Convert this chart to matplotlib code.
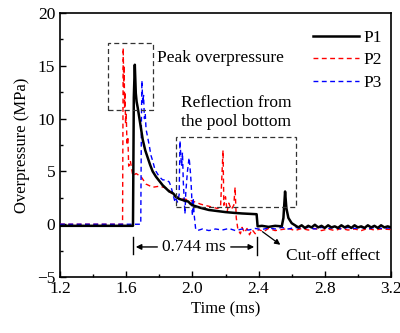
import matplotlib
matplotlib.use("Agg")
import matplotlib.pyplot as plt
from matplotlib.ticker import MultipleLocator
from matplotlib.patches import Rectangle

plt.rcParams['font.family'] = ['Liberation Serif', 'DejaVu Serif']
plt.rcParams['mathtext.fontset'] = 'stix'

# ---------------- data ----------------
t1 = [1.20, 1.641, 1.646, 1.652, 1.658, 1.663, 1.670, 1.680, 1.700, 1.715, 1.730,
      1.745, 1.760, 1.780, 1.800, 1.820, 1.840, 1.860, 1.875, 1.885, 1.900, 1.920,
      1.940, 1.960, 1.975, 1.990, 2.010, 2.050, 2.100, 2.150, 2.200, 2.250, 2.300,
      2.350, 2.388, 2.394, 2.42, 2.46, 2.50, 2.54, 2.550, 2.560, 2.568, 2.580, 2.600,
      2.62, 2.64, 2.66, 2.68, 2.70, 2.72, 2.74, 2.76, 2.78, 2.80, 2.82, 2.84, 2.86,
      2.88, 2.90, 2.92, 2.94, 2.96, 2.98, 3.00, 3.02, 3.04, 3.06, 3.08, 3.10, 3.12,
      3.14, 3.16, 3.18, 3.20]
p1 = [-0.15, -0.15, 12.0, 15.1, 12.4, 11.6, 11.0, 10.0, 8.0, 7.0, 6.3,
      5.6, 5.0, 4.5, 4.1, 3.7, 3.4, 3.1, 3.0, 2.9, 2.6, 2.4,
      2.3, 2.2, 2.15, 1.9, 1.75, 1.55, 1.35, 1.25, 1.15, 1.08, 1.02,
      0.98, 0.95, -0.2, -0.15, -0.25, -0.15, -0.2, 0.6, 3.1, 1.5, 0.6, 0.1,
      -0.1, -0.3, -0.1, -0.35, -0.15, -0.3, -0.05, -0.3, -0.15, -0.35, -0.1, -0.3,
      -0.2, -0.35, -0.1, -0.3, -0.15, -0.35, -0.1, -0.3, -0.2, -0.35, -0.1, -0.3,
      -0.15, -0.35, -0.1, -0.3, -0.2, -0.3]

t2 = [1.20, 1.578, 1.582, 1.585, 1.588, 1.590, 1.593, 1.596, 1.600, 1.605, 1.610,
      1.615, 1.625, 1.640, 1.660, 1.690, 1.720, 1.760, 1.800, 1.850, 1.880, 1.900,
      1.950, 2.000, 2.050, 2.100, 2.150, 2.170, 2.185, 2.190, 2.200, 2.210, 2.220,
      2.235, 2.250, 2.258, 2.265, 2.275, 2.290, 2.300, 2.315, 2.330, 2.345, 2.360,
      2.380, 2.400, 2.43, 2.46, 2.50, 2.54, 2.58, 2.62, 2.66, 2.70, 2.74, 2.78,
      2.82, 2.86, 2.90, 2.94, 2.98, 3.02, 3.06, 3.10, 3.14, 3.20]
p2 = [0.0, 0.0, 16.7, 13.0, 15.0, 11.0, 12.5, 9.5, 10.5, 7.5, 8.3,
      5.5, 6.0, 4.6, 4.8, 4.5, 3.8, 3.5, 3.6, 3.4, 2.8, 2.6,
      2.4, 2.2, 1.9, 1.7, 1.5, 1.6, 7.0, 1.8, 2.6, 1.2, 2.0,
      1.4, 1.8, 3.5, 0.6, -0.5, -0.9, -0.3, -0.8, -0.4, -1.0, -0.5,
      -0.9, -0.5, -0.7, -0.4, -0.6, -0.5, -0.4, -0.6, -0.4, -0.55, -0.4, -0.6,
      -0.45, -0.6, -0.4, -0.55, -0.45, -0.6, -0.4, -0.55, -0.45, -0.5]

t3 = [1.20, 1.688, 1.692, 1.695, 1.700, 1.705, 1.710, 1.715, 1.720, 1.730, 1.740,
      1.750, 1.760, 1.770, 1.780, 1.800, 1.820, 1.840, 1.860, 1.870, 1.880, 1.890,
      1.895, 1.900, 1.910, 1.920, 1.925, 1.930, 1.935, 1.940, 1.945, 1.950, 1.955,
      1.960, 1.970, 1.980, 1.985, 1.990, 1.995, 2.000, 2.005, 2.010, 2.020, 2.030,
      2.06, 2.10, 2.14, 2.18, 2.22, 2.26, 2.30, 2.34, 2.38, 2.42, 2.46, 2.50,
      2.54, 2.58, 2.62, 2.66, 2.70, 2.74, 2.78, 2.82, 2.86, 2.90, 2.94, 2.98,
      3.02, 3.06, 3.10, 3.14, 3.20]
p3 = [0.0, 0.0, 10.0, 13.6, 11.5, 12.2, 10.0, 10.5, 9.0, 8.2, 7.4,
      6.5, 6.0, 5.4, 5.0, 4.5, 4.2, 4.2, 4.0, 3.6, 3.0, 2.4,
      2.1, 2.4, 2.1, 2.8, 7.9, 6.5, 5.5, 6.8, 4.0, 2.5, 1.0,
      3.0, 5.0, 6.3, 5.5, 4.5, 3.0, 0.8, 2.5, 1.0, -0.5, -0.6,
      -0.45, -0.6, -0.45, -0.55, -0.4, -0.6, -0.45, -0.55, -0.4, -0.5, -0.35, -0.45,
      -0.3, -0.45, -0.3, -0.4, -0.3, -0.45, -0.3, -0.4, -0.3, -0.45, -0.3, -0.4,
      -0.3, -0.45, -0.3, -0.4, -0.35]

labels = ['P1', 'P2', 'P3']

x_ticks = [1.2, 1.6, 2.0, 2.4, 2.8, 3.2]
x_tick_labels = ['1.2', '1.6', '2.0', '2.4', '2.8', '3.2']
y_ticks = [-5, 0, 5, 10, 15, 20]

# ---------------- figure ----------------
fig = plt.figure(figsize=(4.0, 3.33), dpi=100)
ax = fig.add_axes([0.15, 0.168, 0.8275, 0.793])

ax.plot(t1, p1, color='black', lw=1.8, label=labels[0], zorder=4)
ax.plot(t2, p2, color='#ff0000', lw=1.0, ls=(0, (3.5, 2.5)), label=labels[1], zorder=3)
ax.plot(t3, p3, color='#0000ff', lw=1.0, ls=(0, (3.5, 2.5)), label=labels[2], zorder=3)

ax.set_xlim(1.2, 3.2)
ax.set_ylim(-5, 20)
ax.set_xticks(x_ticks)
ax.set_xticklabels(x_tick_labels)
ax.set_yticks(y_ticks)
ax.xaxis.set_minor_locator(MultipleLocator(0.2))
ax.yaxis.set_minor_locator(MultipleLocator(2.5))
ax.tick_params(which='both', direction='in', labelsize=12.5)
ax.tick_params(which='major', length=4, width=1)
ax.tick_params(which='minor', length=2.5, width=1)
ax.tick_params(axis='x', pad=3)
for s in ax.spines.values():
    s.set_linewidth(1.2)

ax.set_xlabel('Time (ms)', fontsize=12, labelpad=3)
ax.set_ylabel('Overpressure (MPa)', fontsize=12, labelpad=5)

leg = ax.legend(loc='upper right', frameon=False, fontsize=12.5, handlelength=2.6,
                handletextpad=0.3, labelspacing=0.38, borderaxespad=0.1,
                bbox_to_anchor=(1.0, 0.97))

# dashed boxes
ax.add_patch(Rectangle((1.49, 10.8), 0.272, 6.36, fill=False, ls=(0, (4, 2.5)),
                       lw=0.9, edgecolor='#333333', zorder=5))
ax.add_patch(Rectangle((1.901, 1.63), 0.725, 6.62, fill=False, ls=(0, (4, 2.5)),
                       lw=0.9, edgecolor='#333333', zorder=5))

ax.text(1.785, 15.7, 'Peak overpressure', fontsize=12.5, va='center', ha='left')
ax.text(2.265, 10.6, 'Reflection from\nthe pool bottom', fontsize=12.5,
        va='center', ha='center', linespacing=1.25)

# 0.744 ms annotation
ya = -2.15
ax.plot([1.641, 1.641], [-1.2, -2.8], color='black', lw=1)
ax.plot([2.390, 2.390], [-1.2, -2.9], color='black', lw=1)
ax.annotate('', xy=(1.641, ya), xytext=(1.805, ya),
            arrowprops=dict(arrowstyle='-|>', color='black', lw=1, mutation_scale=8))
ax.annotate('', xy=(2.390, ya), xytext=(2.215, ya),
            arrowprops=dict(arrowstyle='-|>', color='black', lw=1, mutation_scale=8))
ax.text(2.01, ya, '0.744 ms', fontsize=12.5, ha='center', va='center')

# cut-off effect
ax.annotate('', xy=(2.545, -2.1), xytext=(2.41, -0.55),
            arrowprops=dict(arrowstyle='-|>', color='black', lw=0.9, mutation_scale=8))
ax.text(2.85, -3.0, 'Cut-off effect', fontsize=12.5, ha='center', va='center')

fig.savefig('out.png', dpi=100)
